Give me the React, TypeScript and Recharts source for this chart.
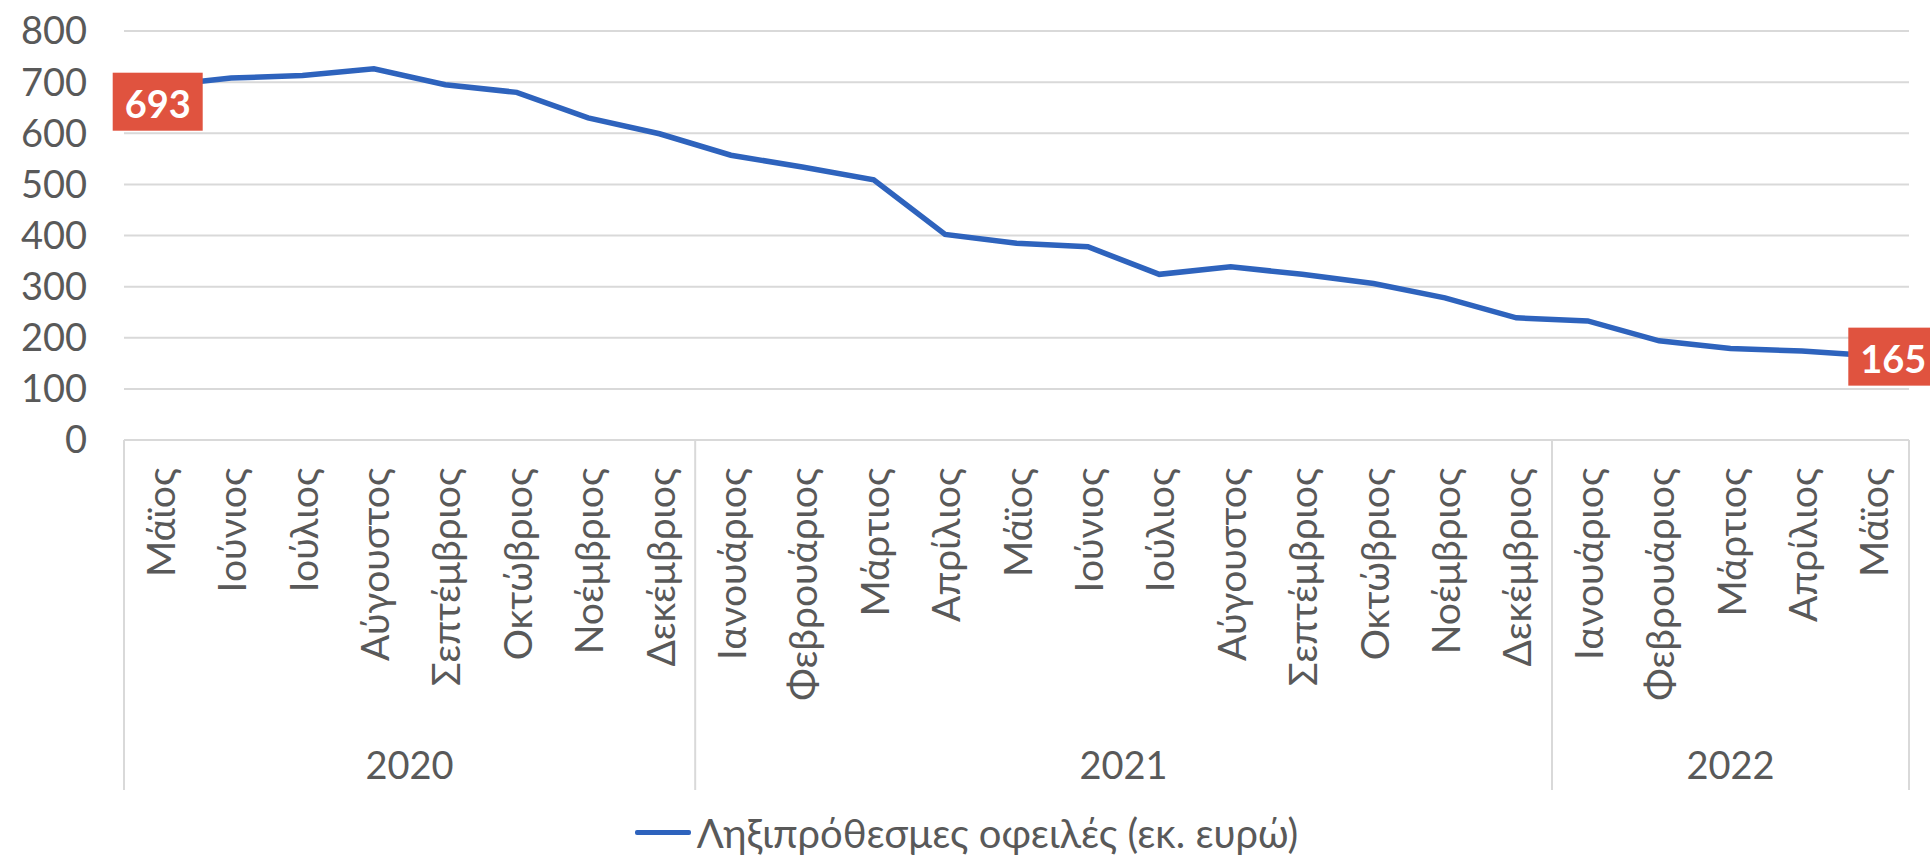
import React from 'react'
import {
    LineChart,
    Line,
    XAxis,
    YAxis,
    CartesianGrid,
    Legend,
    LabelList,
} from 'recharts'

const months = [
    'Μάϊος', 'Ιούνιος', 'Ιούλιος', 'Αύγουστος', 'Σεπτέμβριος', 'Οκτώβριος', 'Νοέμβριος', 'Δεκέμβριος',
    'Ιανουάριος', 'Φεβρουάριος', 'Μάρτιος', 'Απρίλιος', 'Μάϊος', 'Ιούνιος', 'Ιούλιος', 'Αύγουστος',
    'Σεπτέμβριος', 'Οκτώβριος', 'Νοέμβριος', 'Δεκέμβριος',
    'Ιανουάριος', 'Φεβρουάριος', 'Μάρτιος', 'Απρίλιος', 'Μάϊος',
]

const years = [
    '2020', '2020', '2020', '2020', '2020', '2020', '2020', '2020',
    '2021', '2021', '2021', '2021', '2021', '2021', '2021', '2021', '2021', '2021', '2021', '2021',
    '2022', '2022', '2022', '2022', '2022',
]

const overdue = [
    693, 708, 713, 726, 695, 680, 630, 599,
    557, 534, 509, 402, 385, 378, 324, 339, 324, 306, 278, 239,
    233, 194, 179, 174, 165,
]

const yTicks = [0, 100, 200, 300, 400, 500, 600, 700, 800]
const seriesName = 'Ληξιπρόθεσμες οφειλές (εκ. ευρώ)'

const data = months.map((m, i) => ({
    key: `${years[i]}-${i}`,
    month: m,
    year: years[i],
    value: overdue[i],
}))

const FONT = "Lato, 'DejaVu Sans', sans-serif"
const TEXT = '#595959'
const GRID = '#D9D9D9'
const LINE = '#2E63BD'
const LABEL_BG = '#E0533F'

function MonthTick(props: any) {
    const { x, y, payload } = props
    const i = payload.index
    const half = payload.offset || 35.7
    const row = data[i]
    const isFirst = i === 0 || data[i - 1].year !== row.year
    const isLast = i === data.length - 1
    let yearLabel = null
    if (isFirst) {
        const count = data.filter(d => d.year === row.year).length
        yearLabel = (
            <text
                x={x - half + count * half}
                y={y + 324}
                textAnchor="middle"
                dominantBaseline="central"
                fill={TEXT}
                fontSize={38}
                fontFamily={FONT}
            >
                {row.year}
            </text>
        )
    }
    return (
        <g>
            {isFirst && <line x1={x - half} x2={x - half} y1={y} y2={y + 350} stroke={GRID} strokeWidth={2} />}
            {isLast && <line x1={x + half} x2={x + half} y1={y} y2={y + 350} stroke={GRID} strokeWidth={2} />}
            <text
                x={x}
                y={y + 28}
                transform={`rotate(-90 ${x} ${y + 28})`}
                textAnchor="end"
                dominantBaseline="central"
                fill={TEXT}
                fontSize={39}
                fontFamily={FONT}
            >
                {row.month}
            </text>
            {yearLabel}
        </g>
    )
}

function EndLabel(props: any) {
    const { x, y, value, index } = props
    if (index !== 0 && index !== data.length - 1) return null
    const bx = index === 0 ? x - 47 : x - 25
    const by = index === 0 ? y - 13 : y - 28
    return (
        <g>
            <rect x={bx} y={by} width={90} height={58} fill={LABEL_BG} />
            <text
                x={bx + 45}
                y={by + 30}
                textAnchor="middle"
                dominantBaseline="central"
                fill="#fff"
                fontWeight="bold"
                fontSize={38}
                fontFamily={FONT}
            >
                {value}
            </text>
        </g>
    )
}

function LegendBox() {
    return (
        <div style={{ height: 67, paddingTop: 22, boxSizing: 'border-box', display: 'flex', justifyContent: 'center', alignItems: 'flex-start' }}>
            <div style={{ display: 'flex', alignItems: 'center', height: 41 }}>
                <div style={{ width: 56, height: 5, background: LINE, borderRadius: 2, marginRight: 6 }} />
                <span style={{ fontFamily: FONT, fontSize: 40, color: TEXT }}>{seriesName}</span>
            </div>
        </div>
    )
}

export default function App() {
    return (
        <div style={{ position: 'absolute', left: 0, top: 0, width: 1930, height: 857, background: '#fff' }}>
            <LineChart width={1930} height={857} data={data} margin={{ top: 31, right: 21, left: 24, bottom: 0 }}>
                <CartesianGrid vertical={false} stroke={GRID} strokeWidth={2} />
                <XAxis
                    dataKey="key"
                    scale="band"
                    interval={0}
                    height={350}
                    tickSize={0}
                    tickMargin={0}
                    axisLine={{ stroke: GRID, strokeWidth: 2 }}
                    tickLine={false}
                    tick={<MonthTick />}
                />
                <YAxis
                    width={100}
                    domain={[0, 800]}
                    ticks={yTicks}
                    axisLine={false}
                    tickLine={false}
                    tickSize={0}
                    tickMargin={37}
                    tick={{ fontSize: 38, fill: TEXT, fontFamily: FONT }}
                />
                <Legend verticalAlign="bottom" height={67} content={() => <LegendBox />} />
                <Line
                    type="linear"
                    dataKey="value"
                    name={seriesName}
                    stroke={LINE}
                    strokeWidth={5.5}
                    dot={false}
                    isAnimationActive={false}
                >
                    <LabelList dataKey="value" content={<EndLabel />} />
                </Line>
            </LineChart>
        </div>
    )
}
